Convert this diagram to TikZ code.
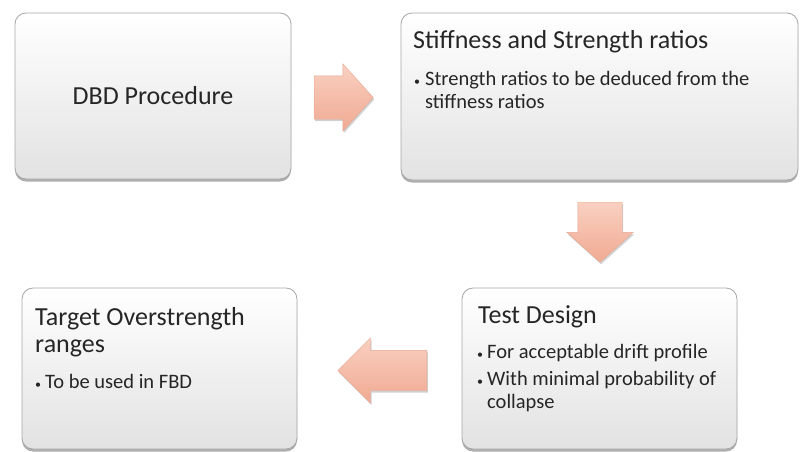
\documentclass[tikz,border=0pt]{standalone}
\usepackage{fontspec}
\setmainfont{Carlito}
\usetikzlibrary{shapes.arrows,shadows}

\definecolor{boxedge}{HTML}{A6A6A6}
\definecolor{boxtop}{HTML}{FFFFFF}
\definecolor{boxbot}{HTML}{E2E2E2}
\definecolor{arrowtop}{HTML}{F9D0C1}
\definecolor{arrowbot}{HTML}{F0AA92}
\definecolor{arrowedge}{HTML}{E6A892}
\definecolor{textcol}{HTML}{262626}

\tikzset{
  stagebox/.style={draw=boxedge, line width=0.8pt, rounded corners=11pt,
    top color=boxtop, middle color=boxtop!96!boxbot, bottom color=boxbot, inner sep=0pt,
    drop shadow={shadow xshift=0pt, shadow yshift=-2.5pt, opacity=0.45, fill=black!70}},
  blockarrow/.style={single arrow, draw=arrowedge, line width=0.4pt,
    top color=arrowtop, bottom color=arrowbot, anchor=tail,
    single arrow head indent=0pt,
    drop shadow={shadow xshift=1pt, shadow yshift=-2pt, opacity=0.3, fill=black!60}},
  titletext/.style={anchor=base west, inner sep=0pt, text=textcol, font=\fontsize{26}{28}\selectfont},
  linetext/.style={anchor=base west, inner sep=0pt, text=textcol, font=\fontsize{20.5}{24}\selectfont},
  dot/.style={anchor=base, inner sep=0pt, text=textcol, font=\fontsize{12}{14}\selectfont},
}

\begin{document}
\begin{tikzpicture}[x=1pt, y=-1pt]
\useasboundingbox (0,0) rectangle (804,451);

% the four stages
\node[stagebox, minimum width=276pt, minimum height=166pt] (dbd) at (153,96) {};
\node[stagebox, minimum width=397pt, minimum height=167pt] (ratios) at (599.5,96.5) {};
\node[stagebox, minimum width=275pt, minimum height=161pt] (test) at (599.5,368.5) {};
\node[stagebox, minimum width=275pt, minimum height=161pt] (target) at (159.5,368.5) {};

% block arrows between the stages (placed by their tails)
\node[blockarrow, minimum height=59pt, inner xsep=0pt, inner ysep=21.5pt,
  single arrow head extend=12pt, single arrow tip angle=96] (a1) at (314,97.5) {};
\node[blockarrow, minimum height=60pt, inner ysep=0pt, inner xsep=22pt,
  single arrow head extend=11pt, single arrow tip angle=96,
  shape border rotate=270] (a2) at (600,202) {};
\node[blockarrow, minimum height=89pt, inner xsep=0pt, inner ysep=20pt,
  single arrow head extend=12.5pt, single arrow tip angle=90,
  shape border rotate=180] (a3) at (427,370.5) {};

% stage texts
\node[text=textcol, inner sep=0pt, font=\fontsize{26}{28}\selectfont] (t1) at (dbd.center) {DBD Procedure};

\node[titletext] (t2) at (413,48) {Stiffness and Strength ratios};
\node[dot] (d2) at (417,85) {\textbullet};
\node[linetext] (b2a) at (425,85) {Strength ratios to be deduced from the};
\node[linetext] (b2b) at (425,108) {stiffness ratios};

\node[titletext] (t3) at (478,323) {Test Design};
\node[dot] (d3a) at (480,358) {\textbullet};
\node[linetext] (b3a) at (487,358) {For acceptable drift profile};
\node[dot] (d3b) at (480,385) {\textbullet};
\node[linetext] (b3b) at (487,385) {With minimal probability of};
\node[linetext] (b3c) at (487,408) {collapse};

\node[titletext] (t4a) at (35,325) {Target Overstrength};
\node[titletext] (t4b) at (35,352) {ranges};
\node[dot] (d4) at (38,388) {\textbullet};
\node[linetext] (b4) at (45,388) {To be used in FBD};
\end{tikzpicture}
\end{document}
